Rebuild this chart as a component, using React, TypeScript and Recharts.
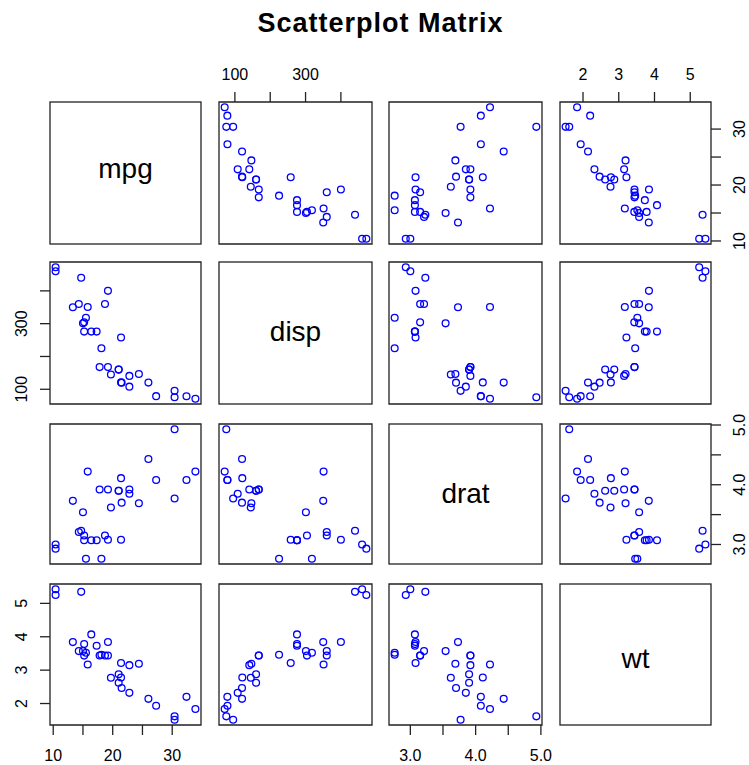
import React from 'react';
import { ScatterChart, Scatter, XAxis, YAxis, ReferenceArea } from 'recharts';

// mtcars: mpg, disp, drat, wt
const mpg = [21.0, 21.0, 22.8, 21.4, 18.7, 18.1, 14.3, 24.4, 22.8, 19.2, 17.8, 16.4, 17.3, 15.2, 10.4, 10.4, 14.7, 32.4, 30.4, 33.9, 21.5, 15.5, 15.2, 13.3, 19.2, 27.3, 26.0, 30.4, 15.8, 19.7, 15.0, 21.4];
const disp = [160.0, 160.0, 108.0, 258.0, 360.0, 225.0, 360.0, 146.7, 140.8, 167.6, 167.6, 275.8, 275.8, 275.8, 472.0, 460.0, 440.0, 78.7, 75.7, 71.1, 120.1, 318.0, 304.0, 350.0, 400.0, 79.0, 120.3, 95.1, 351.0, 145.0, 301.0, 121.0];
const drat = [3.90, 3.90, 3.85, 3.08, 3.15, 2.76, 3.21, 3.69, 3.92, 3.92, 3.92, 3.07, 3.07, 3.07, 2.93, 3.00, 3.23, 4.08, 4.93, 4.22, 3.70, 2.76, 3.15, 3.73, 3.08, 4.08, 4.43, 3.77, 4.22, 3.62, 3.54, 4.11];
const wt = [2.620, 2.875, 2.320, 3.215, 3.440, 3.460, 3.570, 3.190, 3.150, 3.440, 3.440, 4.070, 3.730, 3.780, 5.250, 5.424, 5.345, 2.200, 1.615, 1.835, 2.465, 3.520, 3.435, 3.840, 3.845, 1.935, 2.140, 1.513, 3.170, 2.770, 3.570, 2.780];

const varNames = ['mpg', 'disp', 'drat', 'wt'];

const mpgTicks = [10, 15, 20, 25, 30];
const mpgTickLabels = [10, 20, 30];
const dispTicks = [100, 200, 300, 400];
const dispTickLabels = [100, 300];
const dratTicks = [3.0, 3.5, 4.0, 4.5, 5.0];
const dratTickLabels = [3.0, 4.0, 5.0];
const wtTicks = [2, 3, 4, 5];
const wtTickLabels = [2, 3, 4, 5];
const tickDecimals = [0, 0, 1, 0];

const title = 'Scatterplot Matrix';

// ---- layout / style ----
const FONT = '"Liberation Sans", Arial, Helvetica, sans-serif';
const W = 749;
const H = 765;
const colLeft = [50, 219, 389, 560];
const colWidth = [151, 153, 153, 151];
const rowTop = [102, 262, 424, 584];
const rowHeight = [142, 142, 140, 141];
const labelDy = [5, 8.4, 9, 13.8];
const M = 50;
const AX = 30;
const BOX = '#222';
const BOX_W = 1.3;
const PT = '#0000ff';

const values = [mpg, disp, drat, wt];
const ticks = [mpgTicks, dispTicks, dratTicks, wtTicks];
const tickLabels = [mpgTickLabels, dispTickLabels, dratTickLabels, wtTickLabels];

function extent(v: number[]): [number, number] {
  const lo = Math.min(...v);
  const hi = Math.max(...v);
  const p = (hi - lo) * 0.04;
  return [lo - p, hi + p];
}
const domains = values.map(extent);

type Orient = 'top' | 'bottom' | 'left' | 'right';

const makeTick = (orient: Orient, labels: number[], dec: number) => (props: any) => {
  const { x, y, payload } = props;
  const v = payload.value as number;
  const show = labels.some((l) => Math.abs(l - v) < 1e-9);
  if (!show) return <g />;
  const txt = v.toFixed(dec);
  const common = { fontFamily: FONT, fontSize: 16, fill: '#000', textAnchor: 'middle' as const };
  if (orient === 'top') return <text x={x} y={y - 11.6} {...common}>{txt}</text>;
  if (orient === 'bottom') return <text x={x} y={y + 26} {...common}>{txt}</text>;
  if (orient === 'left') {
    const px = x - 13;
    return <text x={px} y={y} transform={`rotate(-90 ${px} ${y})`} {...common}>{txt}</text>;
  }
  const px = x + 24.5;
  return <text x={px} y={y} transform={`rotate(-90 ${px} ${y})`} {...common}>{txt}</text>;
};

const circleShape = (p: any) => (
  <circle cx={p.cx} cy={p.cy} r={3.4} fill="none" stroke={PT} strokeWidth={1.3} />
);

function Panel({ i, j }: { i: number; j: number }) {
  const w = colWidth[j];
  const h = rowHeight[i];
  const xd = domains[j];
  const yd = domains[i];
  const data = values[j].map((xv, k) => ({ x: xv, y: values[i][k] }));
  let xOrient: Orient | null = null;
  if (i === 0 && j % 2 === 1) xOrient = 'top';
  if (i === 3 && j % 2 === 0) xOrient = 'bottom';
  let yOrient: Orient | null = null;
  if (j === 0 && i % 2 === 1) yOrient = 'left';
  if (j === 3 && i % 2 === 0) yOrient = 'right';
  const xo: Orient = xOrient === 'top' ? 'top' : 'bottom';
  const yo: Orient = yOrient === 'right' ? 'right' : 'left';
  const margin = {
    top: xo === 'top' ? M - AX : M,
    bottom: xo === 'bottom' ? M - AX : M,
    left: yo === 'left' ? M - AX : M,
    right: yo === 'right' ? M - AX : M,
  };
  return (
    <div style={{ position: 'absolute', left: colLeft[j] - M, top: rowTop[i] - M, width: w + 2 * M, height: h + 2 * M }}>
      <ScatterChart width={w + 2 * M} height={h + 2 * M} margin={margin}>
        <XAxis
          dataKey="x"
          type="number"
          domain={xd}
          allowDataOverflow
          ticks={ticks[j]}
          interval={0}
          orientation={xo}
          height={AX}
          axisLine={false}
          tickSize={10}
          tickMargin={0}
          stroke={BOX}
          tickLine={xOrient ? { stroke: BOX, strokeWidth: BOX_W } : false}
          tick={xOrient ? makeTick(xo, tickLabels[j], tickDecimals[j]) : false}
        />
        <YAxis
          dataKey="y"
          type="number"
          domain={yd}
          allowDataOverflow
          ticks={ticks[i]}
          interval={0}
          orientation={yo}
          width={AX}
          axisLine={false}
          tickSize={10}
          tickMargin={0}
          stroke={BOX}
          tickLine={yOrient ? { stroke: BOX, strokeWidth: BOX_W } : false}
          tick={yOrient ? makeTick(yo, tickLabels[i], tickDecimals[i]) : false}
        />
        <ReferenceArea
          x1={xd[0]}
          x2={xd[1]}
          y1={yd[0]}
          y2={yd[1]}
          fill="none"
          fillOpacity={0}
          stroke={BOX}
          strokeWidth={BOX_W}
          ifOverflow="visible"
        />
        <Scatter data={data} shape={circleShape} isAnimationActive={false} />
      </ScatterChart>
    </div>
  );
}

export default function App() {
  const panels: React.ReactNode[] = [];
  for (let i = 0; i < 4; i++) {
    for (let j = 0; j < 4; j++) {
      if (i !== j) panels.push(<Panel key={`${i}-${j}`} i={i} j={j} />);
    }
  }
  return (
    <div style={{ position: 'absolute', left: 0, top: 0, width: W, height: H, background: '#fff', fontFamily: FONT }}>
      {panels}
      <svg width={W} height={H} style={{ position: 'absolute', left: 0, top: 0, pointerEvents: 'none' }}>
        <text x={380.5} y={32} textAnchor="middle" fontFamily={FONT} fontSize={27} fontWeight="bold" letterSpacing={1} fill="#000">
          {title}
        </text>
        {varNames.map((name, k) => (
          <g key={name}>
            <rect x={colLeft[k]} y={rowTop[k]} width={colWidth[k]} height={rowHeight[k]} fill="none" stroke={BOX} strokeWidth={BOX_W} />
            <text
              x={colLeft[k] + colWidth[k] / 2}
              y={rowTop[k] + rowHeight[k] / 2 + labelDy[k]}
              textAnchor="middle"
              fontFamily={FONT}
              fontSize={28}
              fill="#000"
            >
              {name}
            </text>
          </g>
        ))}
      </svg>
    </div>
  );
}
